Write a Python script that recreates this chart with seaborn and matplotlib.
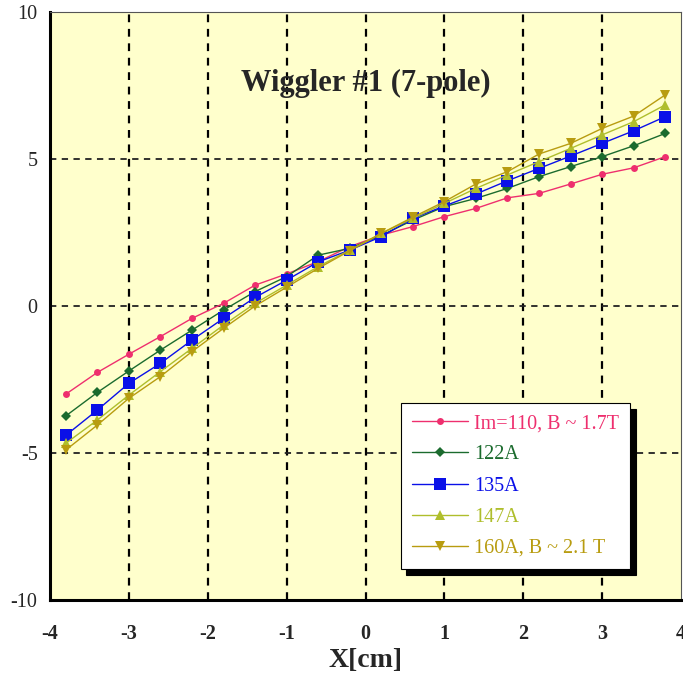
import matplotlib
matplotlib.use("Agg")
import matplotlib.pyplot as plt
import seaborn as sns
import pandas as pd
from matplotlib.ticker import MultipleLocator

x_cm = [-3.8, -3.4, -3.0, -2.6, -2.2, -1.8, -1.4, -1.0, -0.6, -0.2,
        0.2, 0.6, 1.0, 1.4, 1.8, 2.2, 2.6, 3.0, 3.4, 3.8]
s110 = [-3.00, -2.26, -1.64, -1.04, -0.42, 0.09, 0.71, 1.09, 1.51, 2.02,
        2.41, 2.70, 3.04, 3.32, 3.68, 3.83, 4.15, 4.48, 4.70, 5.08]
s122 = [-3.74, -2.94, -2.21, -1.50, -0.82, -0.14, 0.49, 1.00, 1.73, 1.96,
        2.40, 2.92, 3.38, 3.66, 4.00, 4.40, 4.74, 5.08, 5.45, 5.87]
s135 = [-4.40, -3.54, -2.63, -1.95, -1.16, -0.42, 0.29, 0.88, 1.50, 1.90,
        2.36, 2.98, 3.40, 3.81, 4.26, 4.68, 5.10, 5.53, 5.96, 6.44]
s147 = [-4.67, -3.88, -3.03, -2.23, -1.44, -0.65, 0.09, 0.71, 1.34, 1.90,
        2.47, 2.98, 3.49, 4.00, 4.46, 4.91, 5.36, 5.82, 6.27, 6.84]
s160 = [-4.90, -4.05, -3.14, -2.40, -1.55, -0.76, 0.00, 0.64, 1.28, 1.88,
        2.47, 3.02, 3.55, 4.15, 4.57, 5.17, 5.53, 6.04, 6.46, 7.18]

labels = ["Im=110, B ~ 1.7T", "122A", "135A", "147A", "160A, B ~ 2.1 T"]
series = [s110, s122, s135, s147, s160]
colors = ["#EE2F6E", "#1B6B2E", "#0A10E8", "#AFBE2C", "#B89C10"]
markers = ["o", "D", "s", "^", "v"]
msizes = [5, 5.5, 8, 7, 7]

sns.set_style("white")
plt.rcParams["font.family"] = ["Liberation Serif", "DejaVu Serif"]
plt.rcParams["axes.unicode_minus"] = False

fig = plt.figure(figsize=(6.83, 6.75), dpi=100)
ax = fig.add_axes([50 / 683, 1 - 600 / 675, 631 / 683, 588 / 675])
ax.set_facecolor("#FFFFCC")

ax.set_xlim(-4, 4)
ax.set_ylim(-10, 10)
ax.xaxis.set_major_locator(MultipleLocator(1))
ax.yaxis.set_major_locator(MultipleLocator(5))
ax.yaxis.set_minor_locator(MultipleLocator(1))

for xv in range(-3, 4):
    ax.axvline(xv, color="black", lw=1.6, ls=(0, (3.5, 3)), zorder=1)
for yv in (-5, 0, 5):
    ax.axhline(yv, color="#222222", lw=1.3, ls=(0, (3.5, 3)), zorder=1)

for lab, ys, c, m, ms in zip(labels, series, colors, markers, msizes):
    df = pd.DataFrame({"x": x_cm, "y": ys})
    sns.lineplot(data=df, x="x", y="y", ax=ax, color=c, marker=m,
                 markersize=ms, markeredgewidth=0, linewidth=1.0,
                 label=lab, zorder=3)

for side in ("left", "bottom"):
    ax.spines[side].set_linewidth(2.2)
    ax.spines[side].set_color("black")
for side in ("top", "right"):
    ax.spines[side].set_linewidth(0.8)
    ax.spines[side].set_color("#555555")

ax.tick_params(axis="both", which="major", direction="out", length=5,
               width=1.6, color="black", labelsize=14.5, pad=4)
ax.tick_params(axis="y", which="minor", direction="out", length=4,
               width=1.4, color="black")
ax.tick_params(axis="x", which="major", length=8, pad=9)
ax.tick_params(top=False, right=False)
for t in ax.get_xticklabels():
    t.set_fontweight("bold")

ax.set_xlabel("X[cm]", fontsize=20, fontweight="bold", labelpad=3)
ax.set_ylabel("")
ax.text(0.5, 0.878, "Wiggler #1 (7-pole)", transform=ax.transAxes,
        ha="center", va="center", fontsize=22, fontweight="bold")

leg = ax.legend(loc="upper left", bbox_to_anchor=(0.556, 0.335),
                frameon=True, fancybox=False, fontsize=14.5,
                labelcolor="linecolor", handlelength=2.8, handletextpad=0.3,
                labelspacing=0.6, borderpad=0.55, borderaxespad=0,
                shadow={"ox": 4, "oy": -4, "color": "black", "alpha": 1})
leg.get_frame().set_edgecolor("black")
leg.get_frame().set_linewidth(0.8)
leg.get_frame().set_facecolor("white")
leg.get_frame().set_alpha(1)

fig.savefig("out.png", dpi=100, facecolor="white")
